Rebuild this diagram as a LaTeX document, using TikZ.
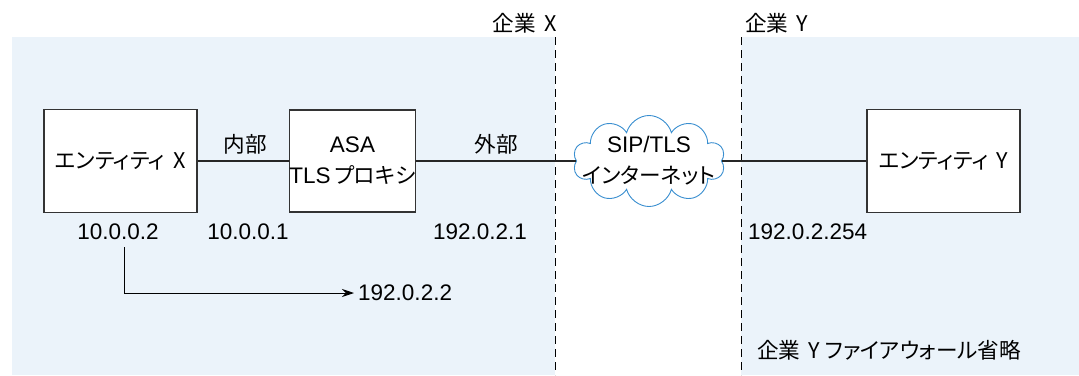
\documentclass[tikz,border=0pt]{standalone}
\usepackage{fontspec}
\setmainfont{Liberation Sans}
\newfontfamily\ja[RawFeature=+palt, Scale=0.96]{Noto Sans CJK JP}
\usepackage{tikz}
\usetikzlibrary{arrows.meta,positioning,shapes.symbols}

\definecolor{zonebg}{HTML}{EBF3FA}
\definecolor{cloudline}{HTML}{3A8FD0}
\definecolor{boxline}{HTML}{333333}

\begin{document}
\begin{tikzpicture}[x=1pt,y=-1pt,font=\fontsize{22.5}{31}\selectfont]

\tikzset{box/.style={draw=boxline, line width=1.2pt, fill=white, align=center, inner sep=0pt},
         link/.style={line width=2.8pt, draw=black!85},
         border/.style={line width=0.9pt, dash pattern=on 8pt off 5pt},
         addr/.style={inner sep=0pt},
         natarrow/.style={line width=0.9pt, -{Stealth[length=12pt,width=8pt]}}}

\useasboundingbox (0,0) rectangle (1079,375);

% zones
\fill[zonebg] (12,37) rectangle (555,375);
\fill[zonebg] (741,37) rectangle (1079,375);
\coordinate (xtop) at (555,37);
\coordinate (xbot) at (555,375);
\coordinate (ytop) at (741,37);
\coordinate (ybot) at (741,375);
\draw[border] (xtop) -- (xbot);
\draw[border] (ytop) -- (ybot);
\node[addr, anchor=east] (zonex) at (557,23) {\ja{企業}\ \,X};
\node[addr, anchor=west] (zoney) at (745,23) {\ja{企業}\ \,Y};

% hosts
\node[box, minimum width=153pt, minimum height=103pt] (entx) at (120.5,161) {\ja{エンティティ}\ \,X};
\node[box, minimum width=123pt, minimum height=102pt] (asa) at (352.5,161) {ASA\\TLS\,\ja{プロキシ}};
\node[cloud, cloud puffs=10, cloud ignores aspect, draw=cloudline, line width=0.9pt, fill=white,
      minimum width=152pt, minimum height=91pt, inner sep=0pt] (net) at (649,161) {};
\node[align=center, inner sep=0pt] (nettext) at (net.center) {SIP/TLS\\\ja{インターネット}};
\node[box, minimum width=153pt, minimum height=103pt] (enty) at (943.5,161) {\ja{エンティティ}\ \,Y};

% links
\draw[link] (entx) -- (asa);
\draw[link] (asa) -- (net);
\draw[link] (net) -- (enty);
\node[addr] (inner) at (245,144) {\ja{内部}};
\node[addr] (outer) at (496,144) {\ja{外部}};

% addresses
\node[addr] (ipx) at (118,232) {10.0.0.2};
\node[addr] (ipin) at (248,232) {10.0.0.1};
\node[addr] (ipout) at (480,232) {192.0.2.1};
\node[addr, anchor=west] (ipy) at (748,232) {192.0.2.254};
\node[addr, anchor=west] (ipnat) at (358,293) {192.0.2.2};
\coordinate (natstart) at (124,247);
\draw[natarrow] (natstart) |- ([xshift=-4pt]ipnat.west);

\node[addr, anchor=west] (nofw) at (757,350) {\ja{企業}\ \,Y \ja{ファイアウォール省略}};

\end{tikzpicture}
\end{document}
